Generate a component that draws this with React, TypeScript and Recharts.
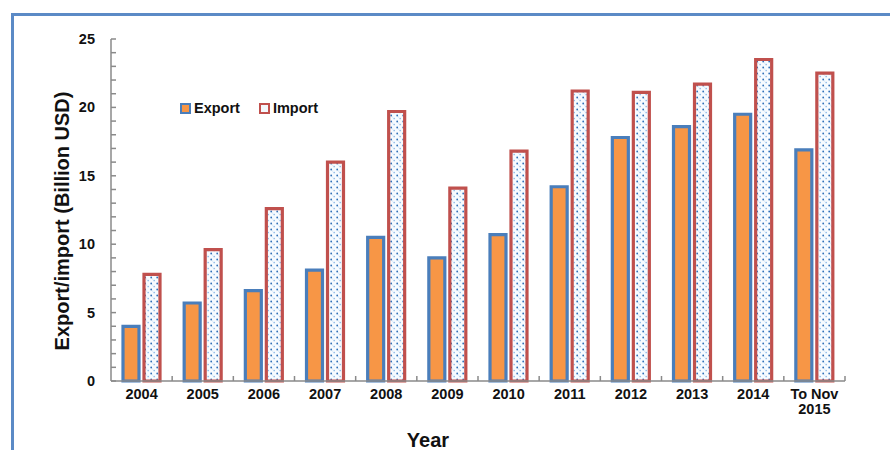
import React from 'react';
import { BarChart, Bar, XAxis, YAxis, Legend } from 'recharts';

const categories = ['2004', '2005', '2006', '2007', '2008', '2009', '2010', '2011', '2012', '2013', '2014', 'To Nov 2015'];
const exportValues = [4.0, 5.7, 6.6, 8.1, 10.5, 9.0, 10.7, 14.2, 17.8, 18.6, 19.5, 16.9];
const importValues = [7.8, 9.6, 12.6, 16.0, 19.7, 14.1, 16.8, 21.2, 21.1, 21.7, 23.5, 22.5];
const yTicks = [0, 1, 2, 3, 4, 5, 6, 7, 8, 9, 10, 11, 12, 13, 14, 15, 16, 17, 18, 19, 20, 21, 22, 23, 24, 25];
const yLabelTicks = [0, 5, 10, 15, 20, 25];

const data = categories.map((c, i) => ({ year: c, Export: exportValues[i], Import: importValues[i] }));

const W = 890;
const H = 450;
const MARGIN = { top: 39, right: 45, bottom: 9, left: 0 };
const Y_AXIS_W = 111;
const X_AXIS_H = 60;
const PLOT_W = W - MARGIN.left - MARGIN.right - Y_AXIS_W;
const HALF_BAND = PLOT_W / categories.length / 2;

const FONT = '"Liberation Sans", Arial, Helvetica, sans-serif';
const AXIS_COLOR = '#8a8a8a';
const EXPORT_FILL = '#F79646';
const EXPORT_STROKE = '#4A7EBB';
const IMPORT_STROKE = '#C0504D';

const XTick = (props: any) => {
  const { x, y, payload, index } = props;
  const lines = String(payload.value) === 'To Nov 2015' ? ['To Nov', '2015'] : [String(payload.value)];
  const last = index === categories.length - 1;
  return (
    <g>
      {index > 0 && (
        <line x1={x - HALF_BAND} x2={x - HALF_BAND} y1={y} y2={y - 5} stroke={AXIS_COLOR} strokeWidth={1.5} />
      )}
      {last && (
        <line x1={x + HALF_BAND} x2={x + HALF_BAND} y1={y} y2={y - 5} stroke={AXIS_COLOR} strokeWidth={1.5} />
      )}
      <text x={x} y={y + 18} textAnchor="middle" fontFamily={FONT} fontWeight="bold" fontSize={14.5} fill="#111">
        {lines.map((l, i) => (
          <tspan key={i} x={x} dy={i === 0 ? 0 : 15}>
            {l}
          </tspan>
        ))}
      </text>
    </g>
  );
};

const YTick = (props: any) => {
  const { x, y, payload } = props;
  const v = Number(payload.value);
  return (
    <g>
      <line x1={x} x2={x + 5} y1={y} y2={y} stroke={AXIS_COLOR} strokeWidth={1.5} />
      {yLabelTicks.includes(v) && (
        <text x={x - 16} y={y + 5} textAnchor="end" fontFamily={FONT} fontWeight="bold" fontSize={14.5} fill="#111">
          {v}
        </text>
      )}
    </g>
  );
};

const YLabel = (props: any) => {
  const vb = props.viewBox || { x: 0, y: 39, width: 111, height: 342 };
  const cx = vb.x + 62;
  const cy = vb.y + vb.height / 2 + 11;
  return (
    <text
      x={cx}
      y={cy}
      transform={`rotate(-90 ${cx} ${cy})`}
      textAnchor="middle"
      dominantBaseline="central"
      fontFamily={FONT}
      fontWeight="bold"
      fontSize={20}
      fill="#111"
    >
      Export/import (Billion USD)
    </text>
  );
};

const XLabel = (props: any) => {
  const vb = props.viewBox || { x: 111, y: 381, width: 734, height: 60 };
  return (
    <text
      x={vb.x + vb.width / 2 - 50}
      y={vb.y + 66}
      textAnchor="middle"
      fontFamily={FONT}
      fontWeight="bold"
      fontSize={20}
      fill="#111"
    >
      Year
    </text>
  );
};

const LegendContent = () => (
  <div style={{ display: 'flex', alignItems: 'center', fontFamily: FONT, fontWeight: 'bold', fontSize: 14.5, color: '#111' }}>
    <span
      style={{
        display: 'inline-block',
        width: 7,
        height: 7,
        border: `2px solid ${EXPORT_STROKE}`,
        background: EXPORT_FILL,
        marginRight: 3,
      }}
    />
    <span style={{ marginRight: 19 }}>Export</span>
    <span
      style={{
        display: 'inline-block',
        width: 7,
        height: 7,
        border: `2px solid ${IMPORT_STROKE}`,
        background: '#f4f8fc',
        marginRight: 3,
      }}
    />
    <span>Import</span>
  </div>
);

export default function App() {
  return (
    <div style={{ position: 'absolute', left: 0, top: 0, width: W, height: H, background: '#fff', overflow: 'hidden' }}>
      <div
        style={{
          position: 'absolute',
          left: 11,
          top: 13,
          width: W,
          height: H,
          borderTop: '3px solid #5B8AC6',
          borderLeft: '3px solid #5B8AC6',
          boxSizing: 'border-box',
        }}
      />
      <BarChart
        width={W}
        height={H}
        data={data}
        margin={MARGIN}
        barSize={16}
        barGap={5}
        style={{ position: 'absolute', left: 0, top: 0 }}
      >
        <defs>
          <pattern id="dots" width="6" height="6" patternUnits="userSpaceOnUse">
            <rect width="6" height="6" fill="#f7fbff" />
            <circle cx="1.2" cy="1.5" r="0.9" fill="#2f6fb8" />
            <circle cx="4.2" cy="4.5" r="0.85" fill="#8fbbe8" />
            <circle cx="2.7" cy="3.0" r="0.6" fill="#c4dcf3" />
          </pattern>
        </defs>
        <XAxis
          dataKey="year"
          height={X_AXIS_H}
          interval={0}
          tickSize={0}
          tickMargin={0}
          tickLine={false}
          axisLine={{ stroke: AXIS_COLOR, strokeWidth: 1.5 }}
          tick={<XTick />}
          label={<XLabel />}
        />
        <YAxis
          width={Y_AXIS_W}
          domain={[0, 25]}
          ticks={yTicks}
          interval={0}
          tickSize={0}
          tickMargin={0}
          tickLine={false}
          axisLine={{ stroke: AXIS_COLOR, strokeWidth: 1.5 }}
          tick={<YTick />}
          label={<YLabel />}
        />
        <Legend
          layout="horizontal"
          align="center"
          verticalAlign="middle"
          content={<LegendContent />}
          wrapperStyle={{ position: 'absolute', left: 180, top: 100, width: 'auto', bottom: 'auto' }}
        />
        <Bar dataKey="Export" fill={EXPORT_FILL} stroke={EXPORT_STROKE} strokeWidth={3.2} isAnimationActive={false} />
        <Bar dataKey="Import" fill="url(#dots)" stroke={IMPORT_STROKE} strokeWidth={3.2} isAnimationActive={false} />
      </BarChart>
    </div>
  );
}
